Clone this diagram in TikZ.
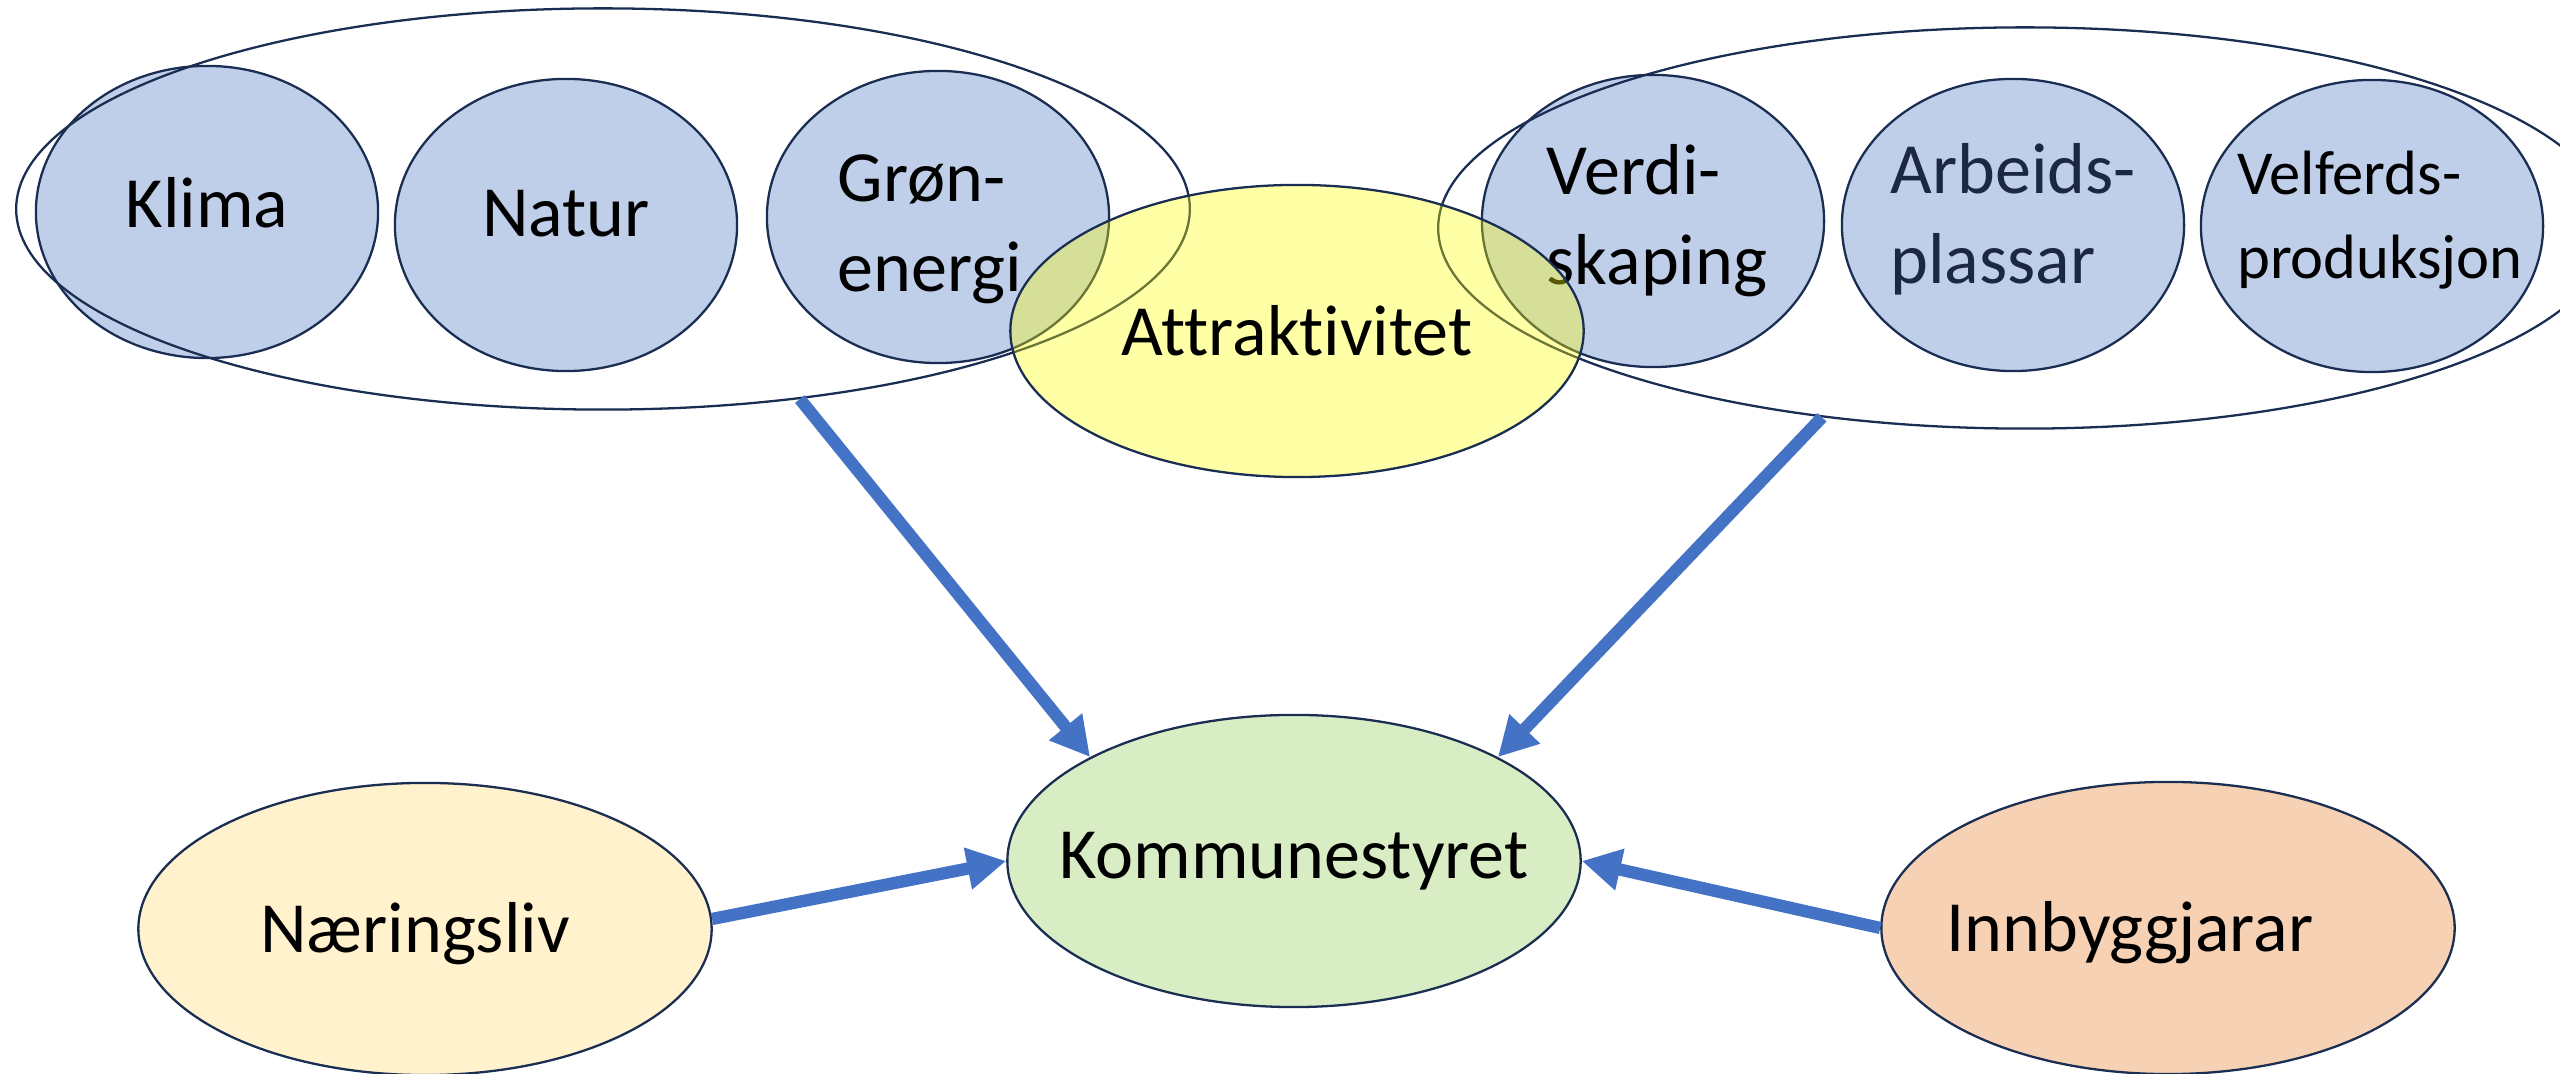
\documentclass[tikz,border=0pt]{standalone}
\usepackage{fontspec}
\setmainfont{Carlito}[Ligatures=NoCommon]
\usetikzlibrary{shapes.geometric,arrows.meta}

\definecolor{rim}{HTML}{1A2D52}
\definecolor{topicfill}{HTML}{BFCFEA}
\definecolor{attrfill}{HTML}{FFFF00}
\definecolor{councilfill}{HTML}{D9EDC5}
\definecolor{businessfill}{HTML}{FFF2CC}
\definecolor{citizenfill}{HTML}{F7D1B4}
\definecolor{flowblue}{HTML}{4472C4}
\definecolor{navytext}{HTML}{1B2745}

\newcommand{\bigtext}{\fontsize{20.5}{25.6}\selectfont}
\newcommand{\smalltext}{\fontsize{17.8}{24}\selectfont}

\begin{document}
\begin{tikzpicture}[
            x=0.01cm, y=-0.01cm,
            every label/.style={align=left, font=\bigtext, text opacity=1},
            topic/.style={ellipse, draw=rim, line width=0.65pt, fill=topicfill, minimum width=3.42cm, minimum height=2.92cm, inner sep=0pt},
            group/.style={ellipse, draw=rim, line width=0.65pt, minimum width=11.73cm, minimum height=4.01cm, inner sep=0pt},
            actor/.style={ellipse, draw=rim, line width=0.65pt, minimum width=5.73cm, minimum height=2.92cm, inner sep=0pt},
            flow/.style={draw=flowblue, line width=3.5pt, -{Triangle[length=3.9mm,width=4mm]}}
        ]
        \useasboundingbox (0,0) rectangle (2560,1074);
        \clip (0,0) rectangle (2560,1074);

        % green side
        \node[topic, label={[yshift=0.09cm]center:Klima}] (klima) at (207,212) {};
        \node[topic, label={[yshift=0.11cm]center:Natur}] (natur) at (566,225) {};
        \node[topic, label={[xshift=-0.08cm, yshift=-0.12cm]center:Grøn-\\energi}] (gron) at (938,217) {};
        % value side
        \node[topic, label={[xshift=0.04cm]center:Verdi-\\skaping}] (verdi) at (1653,221) {};
        \node[topic, label={[text=navytext, yshift=0.06cm]center:Arbeids-\\plassar}] (arbeid) at (2013,225) {};
        \node[topic, label={[font=\smalltext, xshift=0.08cm, yshift=0.06cm]center:Velferds-\\produksjon}] (velferd) at (2372,226) {};

        \node[group] (miljo) at (603,209) {};
        \node[group] (okonomi) at (2025,228) {};

        \node[actor, fill=attrfill, fill opacity=0.35, label=center:Attraktivitet] (attr) at (1297,331) {};

        % bottom row
        \node[actor, fill=councilfill, label=center:Kommunestyret] (kommune) at (1294,861) {};
        \node[actor, fill=businessfill, label={[xshift=-0.1cm, yshift=-0.05cm]center:Næringsliv}] (naering) at (425,929) {};
        \node[actor, fill=citizenfill, label={[xshift=-0.38cm, yshift=-0.05cm]center:Innbyggjarar}] (innbygg) at (2168,928) {};

        % arrows
        \draw[flow] (miljo.-44) -- (kommune.153);
        \draw[flow] (okonomi.-137) -- (kommune.27);
        \draw[flow] (naering.2) -- (kommune.west);
        \draw[flow] (innbygg.west) -- (kommune.east);

        \end{tikzpicture}
\end{document}
